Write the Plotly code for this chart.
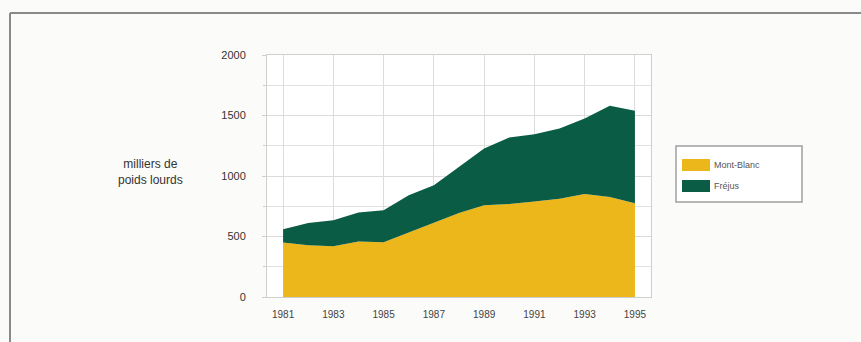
import plotly.graph_objects as go

years = list(range(1981, 1996))
mont_blanc = [450, 428, 419, 458, 452, 535, 612, 695, 759, 768, 790, 812, 852, 826, 775]
frejus = [110, 184, 216, 240, 265, 306, 312, 381, 469, 551, 556, 581, 624, 755, 764]
x_ticks = [1981, 1983, 1985, 1987, 1989, 1991, 1993, 1995]
y_ticks = [0, 500, 1000, 1500, 2000]
series_names = ["Mont-Blanc", "Fréjus"]
colors = ["#ECB71A", "#0B5C45"]

W, H = 861, 342
L, R, T, B = 267, 651, 55, 297
pw, ph = R - L, B - T

def px(xp):
    return (xp - L) / pw

def py(yp):
    return (B - yp) / ph

fig = go.Figure()
for name, vals, col in zip(series_names, [mont_blanc, frejus], colors):
    fig.add_trace(go.Scatter(
        x=years, y=vals, name=name, mode="lines", stackgroup="one",
        line=dict(width=0, color=col), fillcolor=col,
    ))

font = "Liberation Sans Narrow, Liberation Sans, Arial, sans-serif"

fig.update_layout(
    width=W, height=H,
    margin=dict(l=L, r=W - R, t=T, b=H - B),
    paper_bgcolor="#fbfbf9",
    plot_bgcolor="#ffffff",
    showlegend=False,
    xaxis=dict(
        range=[1980.36, 1995.64], tickvals=x_ticks, ticktext=[str(v) for v in x_ticks],
        showgrid=True, gridcolor="#dcdcdc", gridwidth=1,
        showline=True, linecolor="#cfcfcf", mirror=True, zeroline=False,
        ticks="", ticklabelstandoff=8,
        tickfont=dict(family=font, size=10, color="#444"),
    ),
    yaxis=dict(
        range=[0, 2000], tickvals=y_ticks,
        showgrid=True, gridcolor="#dcdcdc", gridwidth=1,
        minor=dict(dtick=250, showgrid=True, gridcolor="#e2e2e2", ticks="outside", ticklen=3, tickcolor="#cfcfcf"),
        showline=True, linecolor="#cfcfcf", mirror=True, zeroline=False,
        ticks="outside", ticklen=4, tickcolor="#cfcfcf",
        ticklabelstandoff=14,
        tickfont=dict(family=font, size=11, color="#333"),
    ),
)

# y-axis title
fig.add_annotation(
    xref="paper", yref="paper", x=px(150), y=py(172),
    text="milliers de<br>poids lourds", showarrow=False,
    font=dict(family="Liberation Sans, Arial, sans-serif", size=12, color="#333"),
    xanchor="center", yanchor="middle", align="center",
)

# legend box
fig.add_shape(type="rect", xref="paper", yref="paper",
              x0=px(676), x1=px(802), y0=py(202), y1=py(146),
              line=dict(color="#a0a0a0", width=1.5), fillcolor="#ffffff", layer="above")
for i, (name, col) in enumerate(zip(series_names, colors)):
    y0, y1 = 159 + i * 21, 171 + i * 21
    fig.add_shape(type="rect", xref="paper", yref="paper",
                  x0=px(682), x1=px(710), y0=py(y1), y1=py(y0),
                  line=dict(width=0), fillcolor=col, layer="above")
    fig.add_annotation(xref="paper", yref="paper", x=px(712), y=py((y0 + y1) / 2),
                       text=name, showarrow=False, xanchor="left", yanchor="middle",
                       font=dict(family=font, size=9, color="#555"))

# outer frame (top and left lines)
fig.add_shape(type="line", xref="paper", yref="paper",
              x0=px(10), x1=px(861), y0=py(13), y1=py(13),
              line=dict(color="#8a8a8a", width=2))
fig.add_shape(type="line", xref="paper", yref="paper",
              x0=px(10), x1=px(10), y0=py(13), y1=py(342),
              line=dict(color="#8a8a8a", width=2))

fig.write_html("out.html")
